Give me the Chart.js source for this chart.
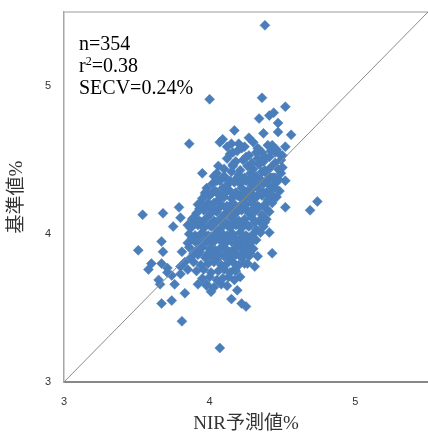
<!DOCTYPE html>
<html>
<head>
<meta charset="utf-8">
<script src="https://cdn.jsdelivr.net/npm/chart.js@4.4.0/dist/chart.umd.min.js"></script>
<style>
  body { margin: 0; background: #fff; }
</style>
</head>
<body>
<canvas id="chart" width="428" height="434"></canvas>
<script>
// 予測値 vs 基準値 ([NIR予測値, 基準値])
const upperPoints = [
  [4.38,5.41],[4.00,4.91],[3.86,4.61],[4.36,4.92],[4.44,4.82],[4.41,4.80],[4.52,4.86],
  [4.34,4.78],[4.47,4.75],[4.17,4.70],[4.27,4.65],[4.56,4.67],[4.09,4.64],[4.37,4.68],
  [4.47,4.69],[4.12,4.59],[4.22,4.58],[4.52,4.59],[4.16,4.55],[4.07,4.62],[4.20,4.61],
  [4.43,4.60],[4.45,4.55],[4.32,4.55],[4.36,4.55]
];
const rightPoints = [
  [4.06,4.46],[4.16,4.47],[4.23,4.50],[4.50,4.45],[4.50,4.53],[4.52,4.36],[4.45,4.31],
  [4.74,4.22],[4.69,4.16],[4.52,4.18],[4.45,4.38],[4.43,4.23],
  [4.43,3.87],[4.33,3.85],[4.30,3.90],[4.38,4.08],[4.41,4.01],[4.26,3.80],[4.31,3.78],
  [4.17,3.76],[4.21,3.71],[4.19,3.62],[4.15,3.56],[4.22,3.53],[4.25,3.51],[4.26,3.93],
  [4.23,3.98],[4.07,3.23]
];
const leftPoints = [
  [3.95,4.41],[4.03,4.39],[3.97,4.28],[4.05,4.28],[4.05,4.36],[3.92,4.20],[3.99,4.21],
  [3.79,4.18],[3.68,4.14],[3.54,4.13],[3.80,4.11],[3.89,4.11],[3.75,4.05],[3.85,4.06],
  [3.89,3.96],[3.67,3.95],[3.51,3.89],[3.68,3.88],[3.81,3.88],[3.83,3.81],[3.60,3.80],
  [3.58,3.76],[3.67,3.80],[3.71,3.77],[3.80,3.78],[3.80,3.73],[3.71,3.74],[3.85,3.76],
  [3.65,3.69],[3.66,3.66],[3.74,3.72],[3.76,3.66],[3.83,3.60],[3.67,3.53],[3.74,3.55],
  [3.81,3.41],[3.92,3.66],[4.01,3.61],[3.98,3.66]
];
const coreUpper = [
  [4.15,4.61],[4.24,4.59],[4.30,4.62],[4.33,4.58],[4.40,4.60],[4.46,4.57],
  [4.14,4.54],[4.19,4.56],[4.27,4.53],[4.34,4.57],[4.38,4.52],[4.42,4.56],[4.48,4.54],
  [4.12,4.51],[4.18,4.49],[4.25,4.52],[4.29,4.48],[4.33,4.51],[4.37,4.49],[4.41,4.52],[4.45,4.48],[4.49,4.50],
  [4.10,4.44],[4.16,4.46],[4.21,4.43],[4.26,4.46],[4.30,4.44],[4.34,4.47],[4.38,4.43],[4.42,4.45],[4.47,4.44],
  [4.05,4.41],[4.10,4.39],[4.15,4.42],[4.20,4.40],[4.24,4.38],[4.28,4.41],[4.32,4.39],[4.36,4.42],[4.40,4.40],[4.44,4.38],[4.49,4.41],
  [4.05,4.37],[4.10,4.38],[4.14,4.36],[4.19,4.38],[4.23,4.37],[4.27,4.36],[4.31,4.38],[4.35,4.37],[4.39,4.36],[4.43,4.38],[4.47,4.37],
  [4.02,4.34],[4.07,4.36],[4.12,4.33],[4.17,4.35],[4.21,4.34],[4.25,4.36],[4.29,4.33],[4.33,4.35],[4.37,4.34],[4.41,4.33],[4.46,4.35],
  [3.98,4.31],[4.04,4.29],[4.09,4.31],[4.13,4.30],[4.18,4.28],[4.22,4.31],[4.26,4.29],[4.30,4.31],[4.34,4.30],[4.39,4.28],[4.43,4.31],[4.48,4.29]
];
const coreMiddle = [
  [3.97,4.27],[4.02,4.28],[4.07,4.26],[4.11,4.28],[4.16,4.27],[4.20,4.26],[4.24,4.28],[4.29,4.27],[4.33,4.26],[4.37,4.28],[4.42,4.27],
  [3.95,4.24],[4.00,4.26],[4.06,4.23],[4.10,4.25],[4.15,4.24],[4.19,4.26],[4.23,4.23],[4.27,4.25],[4.31,4.24],[4.36,4.26],[4.40,4.23],[4.46,4.25],
  [3.94,4.21],[3.99,4.19],[4.03,4.21],[4.08,4.20],[4.12,4.19],[4.16,4.21],[4.21,4.19],[4.25,4.20],[4.29,4.21],[4.33,4.19],[4.38,4.20],[4.43,4.21],
  [3.93,4.17],[3.98,4.18],[4.03,4.16],[4.07,4.18],[4.12,4.17],[4.16,4.16],[4.20,4.18],[4.25,4.17],[4.29,4.16],[4.34,4.18],[4.39,4.17],
  [3.91,4.14],[3.96,4.16],[4.01,4.14],[4.05,4.15],[4.10,4.13],[4.14,4.15],[4.18,4.14],[4.22,4.16],[4.27,4.14],[4.31,4.15],[4.36,4.13],[4.41,4.15],
  [3.88,4.10],[3.93,4.09],[3.98,4.11],[4.03,4.09],[4.07,4.10],[4.11,4.08],[4.15,4.11],[4.20,4.09],[4.24,4.10],[4.29,4.11],[4.34,4.09],[4.39,4.10],
  [3.90,4.07],[3.95,4.08],[4.00,4.06],[4.04,4.08],[4.09,4.07],[4.13,4.06],[4.17,4.08],[4.22,4.07],[4.26,4.06],[4.31,4.08],[4.36,4.07]
];
const coreLower = [
  [3.87,4.04],[3.92,4.06],[3.96,4.04],[4.01,4.05],[4.05,4.03],[4.09,4.05],[4.14,4.04],[4.18,4.06],[4.22,4.04],[4.27,4.05],[4.32,4.03],[4.37,4.05],
  [3.86,4.00],[3.90,3.99],[3.95,4.01],[3.99,3.99],[4.04,4.00],[4.08,4.01],[4.12,3.99],[4.16,4.00],[4.21,4.01],[4.25,3.99],[4.30,4.00],[4.35,4.01],
  [3.88,3.97],[3.92,3.98],[3.97,3.96],[4.01,3.98],[4.05,3.97],[4.09,3.96],[4.13,3.98],[4.18,3.97],[4.22,3.96],[4.26,3.98],[4.30,3.97],
  [3.85,3.94],[3.90,3.95],[3.94,3.93],[3.98,3.95],[4.02,3.94],[4.07,3.96],[4.11,3.94],[4.15,3.95],[4.19,3.93],[4.24,3.95],[4.28,3.94],[4.32,3.96],
  [3.86,3.91],[3.91,3.89],[3.95,3.91],[4.00,3.90],[4.04,3.89],[4.08,3.91],[4.12,3.89],[4.17,3.90],[4.21,3.91],[4.25,3.89],[4.29,3.90],
  [3.89,3.87],[3.93,3.88],[3.98,3.86],[4.02,3.88],[4.06,3.87],[4.10,3.86],[4.14,3.88],[4.18,3.87],[4.22,3.86],[4.25,3.88],[4.28,3.87],
  [3.87,3.84],[3.92,3.86],[3.97,3.84],[4.01,3.85],[4.05,3.83],[4.10,3.85],[4.14,3.84],[4.18,3.86],[4.22,3.84],[4.27,3.85],
  [3.89,3.81],[3.94,3.79],[3.99,3.80],[4.03,3.81],[4.08,3.79],[4.12,3.80],[4.16,3.81],[4.20,3.79],[4.24,3.80],
  [3.91,3.75],[3.96,3.76],[4.01,3.74],[4.06,3.75],[4.10,3.76],[4.14,3.74],[4.18,3.75],
  [3.95,3.70],[4.00,3.71],[4.05,3.69],[4.09,3.70],[4.13,3.71],[4.17,3.69],
  [3.98,3.65],[4.03,3.64],[4.08,3.66],[4.12,3.65]
];

const axisMin = 3;
const axisMax = 5.5;
const tickValues = [3, 4, 5];
const r2 = 0.38;
const secv = 0.24;

const samples = [...upperPoints, ...rightPoints, ...leftPoints, ...coreUpper, ...coreMiddle, ...coreLower]
  .map(p => ({ x: p[0], y: p[1] }));

// 左上の統計テキスト
const statsText = {
  id: 'statsText',
  afterDraw(chart) {
    const ctx = chart.ctx;
    const x = chart.chartArea.left + 15;
    ctx.save();
    ctx.fillStyle = '#000';
    ctx.textBaseline = 'middle';
    ctx.textAlign = 'left';
    ctx.font = '20px "Liberation Serif", "Times New Roman", serif';
    ctx.fillText('n=' + samples.length, x, 45);

    ctx.fillText('r', x, 67);
    let w = ctx.measureText('r').width;
    ctx.font = '12px "Liberation Serif", "Times New Roman", serif';
    ctx.fillText('2', x + w, 62);
    w += ctx.measureText('2').width;
    ctx.font = '20px "Liberation Serif", "Times New Roman", serif';
    ctx.fillText('=' + r2.toFixed(2), x + w, 67);

    ctx.fillText('SECV=' + secv.toFixed(2) + '%', x, 89);
    ctx.restore();
  }
};

// プロットエリア上辺の枠線
const plotFrame = {
  id: 'plotFrame',
  beforeDatasetsDraw(chart) {
    const { ctx, chartArea } = chart;
    ctx.save();
    ctx.strokeStyle = '#bdbdbd';
    ctx.lineWidth = 1.5;
    ctx.beginPath();
    ctx.moveTo(chartArea.left, chartArea.top);
    ctx.lineTo(chartArea.right, chartArea.top);
    ctx.stroke();
    ctx.restore();
  }
};

// 軸の余白を固定する
const fixX = s => { s.height = 52; s.paddingLeft = 0; s.paddingRight = 0; s.paddingTop = 0; s.paddingBottom = 0; };
const fixY = s => { s.width = 64; s.paddingLeft = 0; s.paddingRight = 0; s.paddingTop = 0; s.paddingBottom = 0; };

const tickFont = { family: '"Liberation Sans", Arial, sans-serif', size: 11 };
const titleFont = { family: '"Liberation Serif", "Noto Sans CJK JP", serif', size: 19, lineHeight: 1 };

new Chart(document.getElementById('chart'), {
  data: {
    datasets: [
      {
        // 1:1 line
        type: 'line',
        data: [{ x: axisMin, y: axisMin }, { x: axisMax, y: axisMax }],
        borderColor: '#8c8c8c',
        borderWidth: 1,
        pointRadius: 0,
        fill: false
      },
      {
        type: 'scatter',
        data: samples,
        pointStyle: 'rectRot',
        pointRadius: 5,
        backgroundColor: '#4a7ebb',
        borderColor: '#4a7ebb',
        borderWidth: 0.5
      }
    ]
  },
  options: {
    responsive: false,
    animation: false,
    devicePixelRatio: 1,
    layout: { autoPadding: false, padding: { top: 12, right: 0, left: 0, bottom: 0 } },
    plugins: {
      legend: { display: false },
      tooltip: { enabled: false }
    },
    scales: {
      x: {
        type: 'linear',
        min: axisMin,
        max: axisMax,
        afterBuildTicks: s => { s.ticks = tickValues.map(v => ({ value: v })); },
        afterFit: fixX,
        grid: { display: false, drawTicks: false },
        border: { display: true, color: '#888888', width: 2 },
        ticks: { font: tickFont, color: '#333', padding: 13, maxRotation: 0 },
        title: { display: true, text: 'NIR予測値%', font: titleFont, color: '#333', padding: 0 }
      },
      y: {
        type: 'linear',
        min: axisMin,
        max: axisMax,
        afterBuildTicks: s => { s.ticks = tickValues.map(v => ({ value: v })); },
        afterFit: fixY,
        grid: { display: false, drawTicks: false },
        border: { display: true, color: '#a6a6a6', width: 1.5 },
        ticks: { font: tickFont, color: '#333', padding: 13 },
        title: { display: true, text: '基準値%', font: titleFont, color: '#333', padding: { top: 8, bottom: 0 } }
      }
    }
  },
  plugins: [plotFrame, statsText]
});
</script>
</body>
</html>
